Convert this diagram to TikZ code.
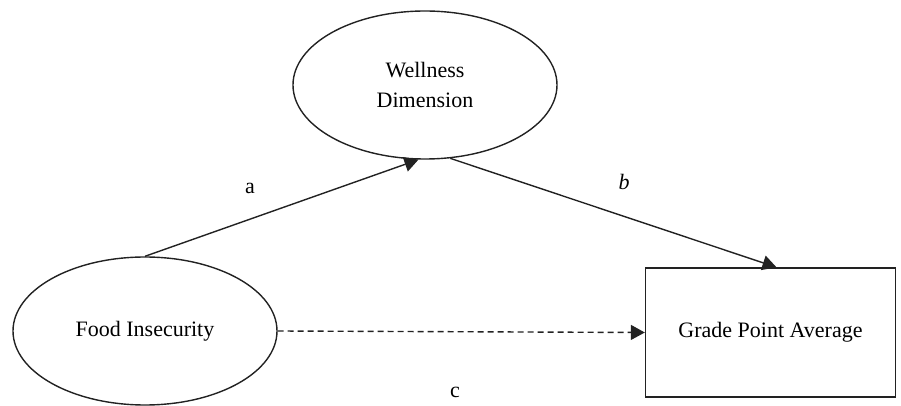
\documentclass[tikz,border=0pt]{standalone}
\usepackage{fontspec}
\setmainfont{Liberation Serif}
\usetikzlibrary{arrows.meta,shapes.geometric}
\definecolor{Ink}{HTML}{222222}
\tikzset{
  construct/.style={
    ellipse, draw=Ink, line width=0.7pt, inner sep=0pt,
    minimum width=132pt, minimum height=74pt, align=center,
    font=\fontsize{11}{15}\selectfont
  },
  outcome/.style={
    rectangle, draw=Ink, line width=0.7pt, inner sep=0pt,
    minimum width=125pt, minimum height=64.5pt, align=center,
    font=\fontsize{11}{13}\selectfont
  },
  effect/.style={-{Triangle[length=7pt,width=7.5pt]}, line width=0.7pt, draw=Ink},
  direct/.style={effect, dash pattern=on 3pt off 2pt},
  coef/.style={font=\fontsize{11}{13}\selectfont, inner sep=0pt}
}
\begin{document}
\begin{tikzpicture}[x=0.5pt,y=-0.5pt]
    \useasboundingbox (0,0) rectangle (901,406);
    \node[construct] (well) at (425,85) {Wellness\\Dimension};
    \node[construct] (food) at (145,331) {Food Insecurity};
    \node[outcome] (gpa) at (770.5,332.5) {Grade Point Average};
    \draw[effect] (food.north) -- (well.265);
    \draw[effect] (well.289) -- ([xshift=3pt]gpa.north);
    \draw[direct] (food.east) -- (gpa.west);
    \node[coef] (ea) at (250,188) {a};
    \node[coef] (eb) at (624,182) {\itshape b};
    \node[coef] (ec) at (455,392) {c};
\end{tikzpicture}
\end{document}
